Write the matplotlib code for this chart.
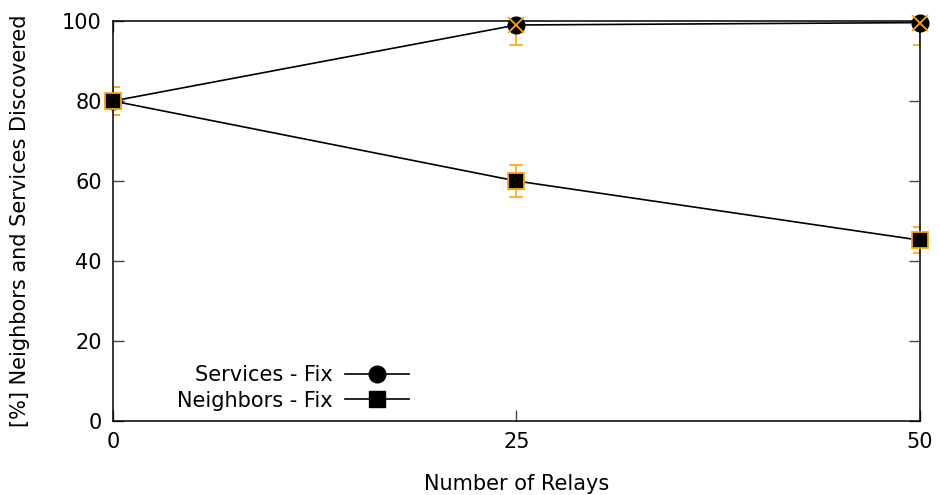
import numpy as np
import matplotlib.pyplot as plt
from matplotlib.lines import Line2D

relays = [0, 25, 50]
services = [80, 99, 99.6]
services_err = [3.5, 5, 5.5]
neighbors = [80, 60, 45.2]
neighbors_err = [3.5, 4, 3.3]

ERR = '#ffa500'


def plot_discovery():
    fig = plt.figure(figsize=(9.39, 4.95), dpi=100)
    ax = fig.add_axes([0.1203, 0.1495, 0.8595, 0.8081])

    # error bars (clipped at the frame like gnuplot)
    ax.errorbar(relays, services, yerr=services_err, fmt='none', ecolor=ERR,
                elinewidth=1.2, capsize=5, capthick=1.2, zorder=2)
    ax.errorbar(relays, neighbors, yerr=neighbors_err, fmt='none', ecolor=ERR,
                elinewidth=1.2, capsize=5, capthick=1.2, zorder=2)

    ax.plot(relays, services, color='black', lw=1.2, marker='o', markersize=12,
            markerfacecolor='black', markeredgecolor='black',
            clip_on=False, zorder=3)
    ax.plot(relays, services, linestyle='none', marker='x', markersize=12,
            markeredgecolor=ERR, markeredgewidth=1.3, clip_on=False, zorder=4)
    ax.plot(relays, neighbors, color='black', lw=1.2, marker='s', markersize=12,
            markerfacecolor='black', markeredgecolor=ERR, markeredgewidth=1.3,
            clip_on=False, zorder=5)

    ax.set_xlim(0, 50)
    ax.set_ylim(0, 100)
    ax.set_xticks(relays)
    ax.set_yticks(np.arange(0, 101, 20))
    ax.tick_params(direction='in', length=8, width=1, color='#444444',
                   top=True, right=True, labelsize=15, pad=8)
    for s in ax.spines.values():
        s.set_linewidth(1.1)

    ax.set_xlabel('Number of Relays', fontsize=15, labelpad=16)
    ax.set_ylabel('[%] Neighbors and Services Discovered', fontsize=15, labelpad=23)

    # legend keys are plain black in the original
    handles = [Line2D([], [], color='black', lw=1.2, marker='o', markersize=12),
               Line2D([], [], color='black', lw=1.2, marker='s', markersize=12)]
    ax.legend(handles, ['Services - Fix', 'Neighbors - Fix'],
              loc='lower left', bbox_to_anchor=(0.066, 0.0), markerfirst=False,
              frameon=False, fontsize=15, handlelength=3.1, handletextpad=0.6,
              labelspacing=0.25, borderaxespad=0.1)

    fig.savefig('out.png', dpi=100)


def main():
    plot_discovery()


if __name__ == "__main__":
    main()
